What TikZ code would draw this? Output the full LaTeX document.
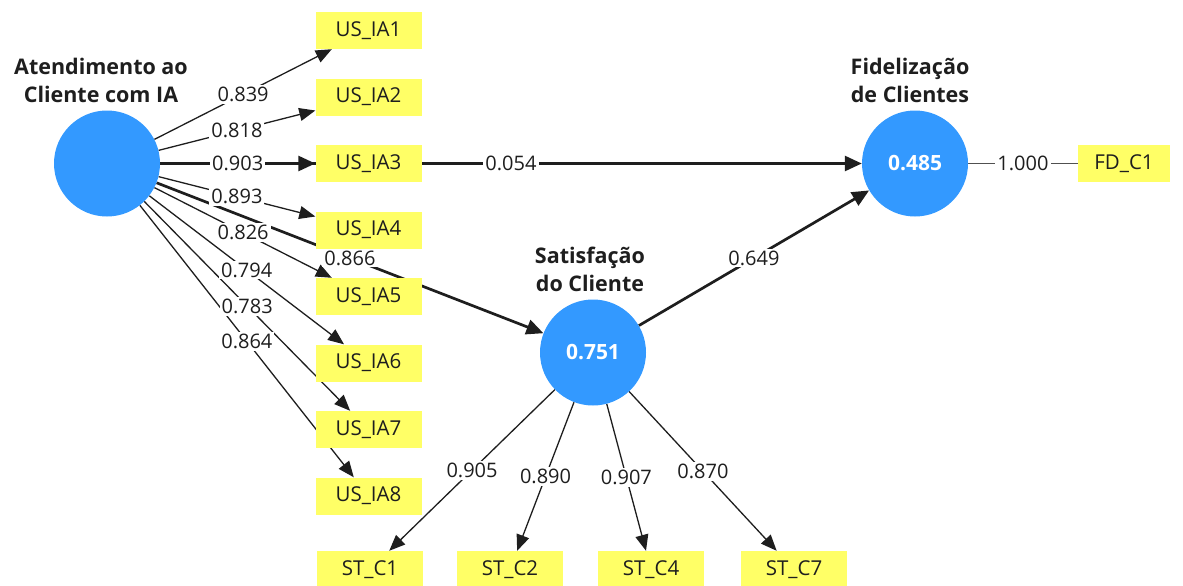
\documentclass[tikz,border=0pt]{standalone}
\usepackage{fontspec}
\setmainfont{Open Sans}
\usetikzlibrary{arrows.meta}
\pgfdeclarelayer{bg}\pgfdeclarelayer{fg}
\pgfsetlayers{bg,main,fg}
\definecolor{lvblue}{RGB}{51,153,255}
\definecolor{indyellow}{RGB}{255,255,102}
\definecolor{txt}{RGB}{30,30,30}
\definecolor{grayline}{RGB}{80,80,80}
\tikzset{
  lv/.style={circle, fill=lvblue, minimum size=106pt, inner sep=0pt, text=white,
    font=\fontsize{21}{24}\selectfont\bfseries},
  ind/.style={rectangle, fill=indyellow, minimum width=106pt, minimum height=37pt,
    inner sep=0pt, text=txt, font=\fontsize{20.5}{23}\selectfont},
  ttl/.style={align=center, text=txt, font=\fontsize{21.5}{28}\selectfont\bfseries},
  lab/.style={fill=white, inner sep=2pt, text=txt, font=\fontsize{20}{23}\selectfont},
  ldarr/.style={line width=1.3pt, draw=txt, -{Triangle[length=16pt,width=13pt]}},
  pcarr/.style={line width=2.7pt, draw=txt, -{Triangle[length=17pt,width=15pt]}},
  plain/.style={line width=1.3pt, draw=grayline},
}
\begin{document}
\begin{tikzpicture}[x=1pt,y=-1pt]
\useasboundingbox (0,0) rectangle (1183,586);
% latent variables
\node[lv] (AT) at (107,163.5) {};
\node[lv] (FID) at (915,163.5) {0.485};
\node[lv] (SAT) at (593,352.5) {0.751};
% titles
\node[ttl] (tAT) at (101,80) {Atendimento ao\\Cliente com IA};
\node[ttl] (tFID) at (910,80) {Fidelização\\de Clientes};
\node[ttl] (tSAT) at (590,269) {Satisfação\\do Cliente};
% indicators
\node[ind] (I1) at (368.5,30.5) {US\_IA1};
\node[ind] (I2) at (368.5,97) {US\_IA2};
\node[ind] (I3) at (368.5,163.5) {US\_IA3};
\node[ind] (I4) at (368.5,230) {US\_IA4};
\node[ind] (I5) at (368.5,296.5) {US\_IA5};
\node[ind] (I6) at (368.5,363) {US\_IA6};
\node[ind] (I7) at (368.5,429.5) {US\_IA7};
\node[ind] (I8) at (368.5,496) {US\_IA8};
\node[ind, minimum width=92pt] (F1) at (1124,163.5) {FD\_C1};
\node[ind] (S1) at (370,569.5) {ST\_C1};
\node[ind] (S2) at (510,569.5) {ST\_C2};
\node[ind] (S4) at (651,569.5) {ST\_C4};
\node[ind] (S7) at (794,569.5) {ST\_C7};
% connectors
\begin{pgfonlayer}{bg}
\draw[ldarr] (AT) -- (I1) coordinate[midway] (m1);
\draw[ldarr] (AT) -- (I2) coordinate[midway] (m2);
\draw[pcarr] (AT) -- (I3) coordinate[midway] (m3);
\draw[ldarr] (AT) -- (I4) coordinate[midway] (m4);
\draw[ldarr] (AT) -- (I5) coordinate[midway] (m5);
\draw[ldarr] (AT) -- (I6) coordinate[midway] (m6);
\draw[ldarr] (AT) -- (I7) coordinate[midway] (m7);
\draw[ldarr] (AT) -- (I8) coordinate[midway] (m8);
\draw[pcarr] (AT) -- (FID) coordinate[midway] (p1);
\draw[pcarr] (AT) -- (SAT) coordinate[midway] (p2);
\draw[pcarr] (SAT) -- (FID) coordinate[midway] (p3);
\draw[plain] (FID) -- (F1) coordinate[midway] (f1);
\draw[ldarr] (SAT) -- (S1) coordinate[midway] (s1);
\draw[ldarr] (SAT) -- (S2) coordinate[midway] (s2);
\draw[ldarr] (SAT) -- (S4) coordinate[midway] (s4);
\draw[ldarr] (SAT) -- (S7) coordinate[midway] (s7);
\end{pgfonlayer}
% labels
\begin{pgfonlayer}{fg}
\node[lab] (L1) at (m1) {0.839};
\node[lab] (L2) at (m2) {0.818};
\node[lab] (L3) at (m3) {0.903};
\node[lab] (L4) at (m4) {0.893};
\node[lab] (L5) at (m5) {0.826};
\node[lab] (L6) at (m6) {0.794};
\node[lab] (L7) at (m7) {0.783};
\node[lab] (L8) at (m8) {0.864};
\node[lab] (P1) at (p1) {0.054};
\node[lab] (P2) at (p2) {0.866};
\node[lab] (P3) at (p3) {0.649};
\node[lab] (FL) at (f1) {1.000};
\node[lab] (SL1) at (s1) {0.905};
\node[lab] (SL2) at (s2) {0.890};
\node[lab] (SL4) at (s4) {0.907};
\node[lab] (SL7) at (s7) {0.870};
\end{pgfonlayer}
\end{tikzpicture}
\end{document}
